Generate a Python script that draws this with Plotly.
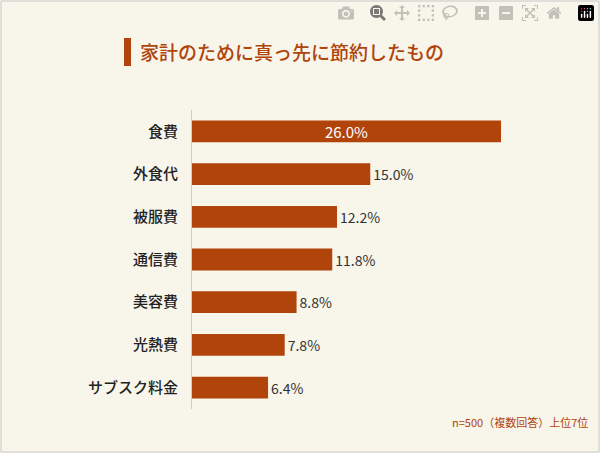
import plotly.graph_objects as go

# data
categories = ['食費', '外食代', '被服費', '通信費', '美容費', '光熱費', 'サブスク料金']
values = [26.0, 15.0, 12.2, 11.8, 8.8, 7.8, 6.4]

BROWN = '#b0440a'
BG = '#f8f5eb'
W, H = 600, 453
L, R, T, B = 192, 60, 110, 44

fig = go.Figure()

fig.add_trace(go.Bar(
    y=categories, x=values, orientation='h',
    marker=dict(color=BROWN, line=dict(width=0)),
    text=[f'{v:.1f}%' for v in values],
    textposition=['inside'] + ['outside'] * (len(values) - 1),
    insidetextanchor='middle',
    constraintext='none',
    textfont=dict(size=14),
    insidetextfont=dict(color='white', size=15),
    outsidetextfont=dict(color='#333333', size=14),
    cliponaxis=False,
    hoverinfo='skip',
))

pw, ph = W - L - R, H - T - B
px = lambda x: (x - L) / pw
py = lambda y: (H - B - y) / ph

# title with side bar
fig.add_shape(type='rect', xref='paper', yref='paper',
              x0=px(124), x1=px(131), y0=py(66), y1=py(38),
              fillcolor=BROWN, line=dict(width=0))
fig.add_annotation(xref='paper', yref='paper', x=px(138), y=py(52),
                   text='家計のために真っ先に節約したもの',
                   showarrow=False, xanchor='left', yanchor='middle',
                   font=dict(size=19, color=BROWN, weight=500))
# footer
fig.add_annotation(xref='paper', yref='paper', x=px(590), y=py(422),
                   text='n=500（複数回答）上位7位', showarrow=False,
                   xanchor='right', yanchor='middle',
                   font=dict(size=11, color=BROWN))
# frame border
fig.add_shape(type='rect', xref='paper', yref='paper',
              x0=px(1), x1=px(W - 1), y0=py(H - 1), y1=py(1),
              line=dict(color='#c8c8c8', width=1))

fig.update_layout(
    width=W, height=H,
    margin=dict(l=L, r=R, t=T, b=B),
    paper_bgcolor=BG, plot_bgcolor=BG,
    font=dict(family='Noto Sans CJK JP', color='#222222'),
    bargap=0.49,
    showlegend=False,
    xaxis=dict(range=[0, pw / (309 / 26)], visible=False),
    yaxis=dict(autorange='reversed', showline=True, linecolor='#cccccc',
               linewidth=1, ticks='', ticklabelstandoff=10,
               tickfont=dict(size=15, color='#222222', weight=500),
               showgrid=False),
)

fig.write_html('out.html', post_script="document.body.style.margin='0';")
